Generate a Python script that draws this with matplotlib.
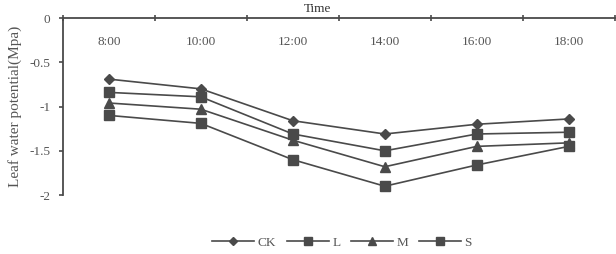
import matplotlib
matplotlib.use("Agg")
import matplotlib.pyplot as plt

plt.rcParams["font.family"] = ["Liberation Serif", "DejaVu Serif"]

# data
times = ["8:00", "10:00", "12:00", "14:00", "16:00", "18:00"]
ck = [-0.69, -0.80, -1.16, -1.31, -1.20, -1.14]
l_vals = [-0.84, -0.89, -1.31, -1.50, -1.31, -1.29]
m_vals = [-0.96, -1.03, -1.38, -1.68, -1.45, -1.41]
s_vals = [-1.10, -1.19, -1.60, -1.90, -1.66, -1.45]

grey = "#4a4a4a"
txt = "#555555"

fig = plt.figure(figsize=(6.16, 2.54), dpi=100)
ax = fig.add_axes([0.102, 0.232, 0.896, 0.697])

x = list(range(len(times)))
ax.plot(x, ck, color=grey, lw=1.2, marker="D", ms=5, label="CK")
ax.plot(x, l_vals, color=grey, lw=1.2, marker="s", ms=7, label="L")
ax.plot(x, m_vals, color=grey, lw=1.2, marker="^", ms=7, label="M")
ax.plot(x, s_vals, color=grey, lw=1.2, marker="s", ms=7, label="S")

ax.set_xlim(-0.5, len(times) - 0.5)
ax.set_ylim(-2, 0)
ax.set_yticks([0, -0.5, -1, -1.5, -2])
ax.set_yticklabels(["0", "-0.5", "-1", "-1.5", "-2"])

# x axis sits on top at y = 0
ax.spines["bottom"].set_visible(False)
ax.spines["right"].set_visible(False)
ax.spines["top"].set_color(grey)
ax.spines["left"].set_color(grey)
ax.spines["top"].set_linewidth(1.3)
ax.spines["left"].set_linewidth(1.3)
ax.xaxis.set_ticks_position("top")
ax.set_xticks([i - 0.5 for i in range(len(times) + 1)])
ax.set_xticklabels([])
ax.tick_params(axis="x", direction="inout", length=5, color=grey, width=1.2)
ax.tick_params(axis="y", direction="out", length=3, color=grey, width=1.2,
               labelsize=9.5, labelcolor=txt, pad=6)

for i, t in enumerate(times):
    ax.text(i, -0.27, t, ha="center", va="center", fontsize=9.5, color=txt)

ax.text(0.462, 1.05, "Time", transform=ax.transAxes, ha="center", va="center",
        fontsize=9.5, color="#333333")
ax.set_ylabel("Leaf water potential(Mpa)", fontsize=11, color=txt, labelpad=5)

fig.legend(loc="center", bbox_to_anchor=(0.555, 0.045), ncol=4, frameon=False,
           fontsize=9.5, handlelength=3.2, columnspacing=0.8, handletextpad=0.25,
           labelcolor=txt, markerscale=0.85)

fig.savefig("out.png", dpi=100)
